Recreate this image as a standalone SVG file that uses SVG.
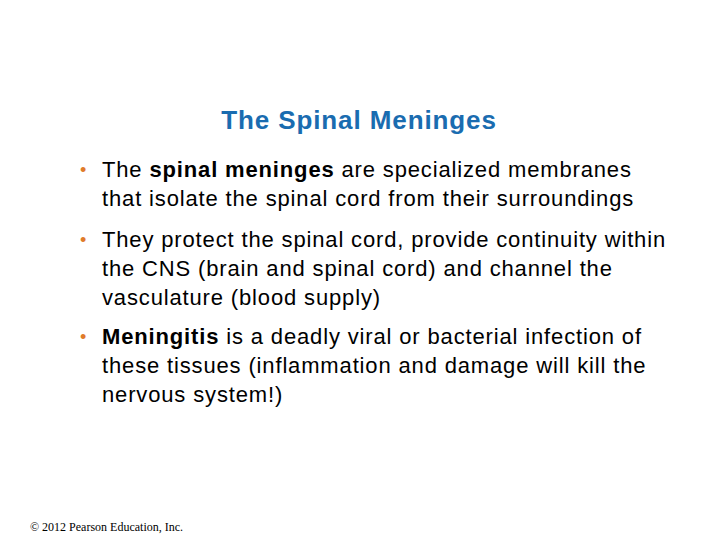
<svg xmlns="http://www.w3.org/2000/svg" width="720" height="540" viewBox="0 0 720 540">
<style>
.t{font-family:"Liberation Sans",Arial,sans-serif;font-size:22px;letter-spacing:0.85px;fill:#000}
.b{fill:#E07B2A;font-family:"Liberation Sans",Arial,sans-serif;font-size:18px}
</style>
<rect width="720" height="540" fill="#fff"/>
<text x="359" y="129" text-anchor="middle" font-family="Liberation Sans,Arial,sans-serif" font-weight="bold" font-size="26" letter-spacing="0.9" fill="#1A6CB0">The Spinal Meninges</text>
<g id="bullet1">
<text class="b" x="80" y="176">•</text>
<text class="t" x="102" y="177">The <tspan font-weight="bold">spinal meninges</tspan> are specialized membranes</text>
<text class="t" x="102" y="206">that isolate the spinal cord from their surroundings</text>
</g>
<g id="bullet2">
<text class="b" x="80" y="246">•</text>
<text class="t" x="102" y="247">They protect the spinal cord, provide continuity within</text>
<text class="t" x="102" y="276">the CNS (brain and spinal cord) and channel the</text>
<text class="t" x="102" y="305">vasculature (blood supply)</text>
</g>
<g id="bullet3">
<text class="b" x="80" y="343">•</text>
<text class="t" x="102" y="344"><tspan font-weight="bold">Meningitis</tspan> is a deadly viral or bacterial infection of</text>
<text class="t" x="102" y="373">these tissues (inflammation and damage will kill the</text>
<text class="t" x="102" y="402">nervous system!)</text>
</g>
<text x="30" y="531" font-family="Liberation Serif,Times New Roman,serif" font-size="12" fill="#000">© 2012 Pearson Education, Inc.</text>
</svg>
